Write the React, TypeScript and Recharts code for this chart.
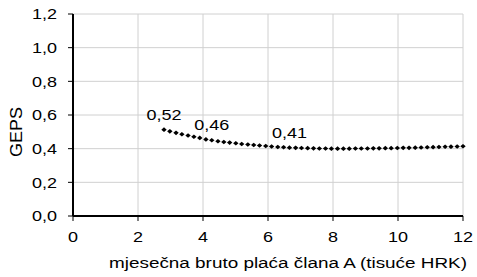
import { LineChart, Line, XAxis, YAxis, CartesianGrid, LabelList, Label } from 'recharts'

const placa = [
  2.8, 2.98, 3.17, 3.35, 3.54, 3.72, 3.9, 4.09, 4.27, 4.46, 4.64, 4.82, 5.01, 5.19, 5.38, 5.56, 5.74,
  5.93, 6.11, 6.3, 6.48, 6.66, 6.85, 7.03, 7.22, 7.4, 7.58, 7.77, 7.95, 8.14, 8.32, 8.5, 8.69, 8.87,
  9.06, 9.24, 9.42, 9.61, 9.79, 9.98, 10.16, 10.34, 10.53, 10.71, 10.9, 11.08, 11.26, 11.45, 11.63,
  11.82, 12.0,
]
const geps = [
  0.513, 0.503, 0.494, 0.486, 0.478, 0.471, 0.464, 0.455, 0.45, 0.444, 0.44, 0.436, 0.432, 0.428,
  0.425, 0.422, 0.419, 0.416, 0.413, 0.41, 0.408, 0.406, 0.405, 0.404, 0.403, 0.402, 0.401, 0.401,
  0.4, 0.4, 0.4, 0.4, 0.401, 0.401, 0.401, 0.402, 0.402, 0.403, 0.403, 0.404, 0.405, 0.405,
  0.406, 0.407, 0.408, 0.409, 0.41, 0.411, 0.412, 0.413, 0.414,
]
// labels shown above selected points
const oznake: Record<number, string> = { 0: '0,52', 8: '0,46', 21: '0,41' }

const xTicks = [0, 2, 4, 6, 8, 10, 12]
const yTicks = [0, 0.2, 0.4, 0.6, 0.8, 1.0, 1.2]

const data = placa.map((x, i) => ({ x, y: geps[i], oznaka: oznake[i] ?? '' }))

const FONT = '"Liberation Sans", Arial, sans-serif'
const SX = 1.2

const fmt = (v: number) => v.toFixed(1).replace('.', ',')

function XTick({ x, y, payload }: any) {
  return (
    <text transform={`translate(${x},${y}) scale(${SX},1)`} textAnchor="middle" dy="0.71em" fontSize={15} fill="#000" fontFamily={FONT}>
      {payload.value}
    </text>
  )
}

function YTick({ x, y, payload }: any) {
  return (
    <text transform={`translate(${x},${y}) scale(${SX},1)`} textAnchor="end" dy="0.355em" fontSize={15} fill="#000" fontFamily={FONT}>
      {fmt(payload.value)}
    </text>
  )
}

function Romb({ cx, cy }: any) {
  if (cx == null || cy == null) return null
  return <polygon points={`${cx - 2.7},${cy} ${cx},${cy - 2.3} ${cx + 2.7},${cy} ${cx},${cy + 2.3}`} fill="#000" />
}

function Oznaka({ x, y, value }: any) {
  if (!value) return null
  return (
    <text transform={`translate(${x},${y - 10}) scale(${SX},1)`} textAnchor="middle" fontSize={15} fill="#000" fontFamily={FONT}>
      {value}
    </text>
  )
}

export default function App() {
  return (
    <div style={{ width: 477, height: 277, background: '#fff' }}>
      <style>{'body{margin:0}'}</style>
      <LineChart width={477} height={277} data={data} margin={{ top: 14, right: 14, bottom: 0, left: 0 }}>
        <CartesianGrid stroke="#d0d0d0" strokeWidth={1} />
        <XAxis
          dataKey="x"
          type="number"
          domain={[0, 12]}
          ticks={xTicks}
          height={61}
          axisLine={{ stroke: '#000', strokeWidth: 2 }}
          tickLine={{ stroke: '#000' }}
          tickSize={5}
          tickMargin={10}
          tick={<XTick />}
        >
          <Label
            content={({ viewBox }: any) => (
              <text
                transform={`translate(${viewBox.x + viewBox.width / 2 + 20},${viewBox.y + 52}) scale(1.26,1)`}
                textAnchor="middle"
                fontSize={15}
                fill="#000"
                fontFamily={FONT}
              >
                mjesečna bruto plaća člana A (tisuće HRK)
              </text>
            )}
          />
        </XAxis>
        <YAxis
          type="number"
          domain={[0, 1.2]}
          ticks={yTicks}
          width={73}
          axisLine={{ stroke: '#000', strokeWidth: 2 }}
          tickLine={{ stroke: '#000' }}
          tickSize={5}
          tickMargin={11}
          tick={<YTick />}
        >
          <Label
            content={({ viewBox }: any) => (
              <text
                transform={`translate(${viewBox.x + 22},${viewBox.y + viewBox.height / 2 + 17}) rotate(-90) scale(1.2,1.1)`}
                textAnchor="middle"
                fontSize={15}
                fill="#000"
                fontFamily={FONT}
              >
                GEPS
              </text>
            )}
          />
        </YAxis>
        <Line dataKey="y" stroke="none" dot={<Romb />} activeDot={false} isAnimationActive={false}>
          <LabelList dataKey="oznaka" content={<Oznaka />} />
        </Line>
      </LineChart>
    </div>
  )
}
